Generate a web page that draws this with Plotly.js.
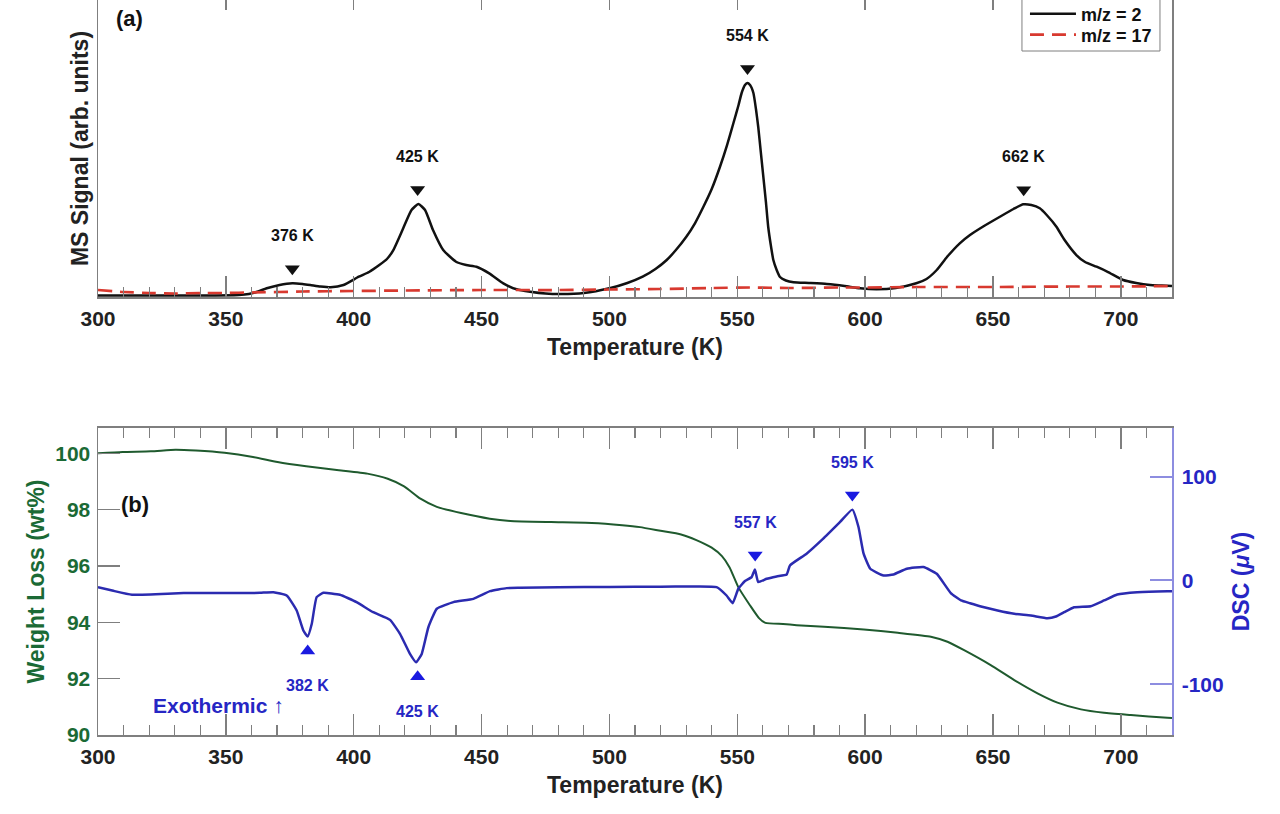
<!DOCTYPE html>
<html><head><meta charset="utf-8">
<script src="https://cdn.plot.ly/plotly-3.0.1.min.js"></script>
<style>html,body{margin:0;padding:0;background:#fff}#chart{width:1280px;height:814px}</style>
</head><body><div id="chart"></div>
<script>
// ---- Panel (a): mass spectrometry ----
const tempMS2 = [300, 320, 340, 355, 359, 362, 366, 371, 376, 380, 383, 387, 391, 396, 402, 406, 410, 413, 415.5, 419.4, 422.6, 425.3, 427.9, 431, 435, 440, 444, 448, 453, 458.5, 463.7, 469, 475, 481, 490, 500, 507, 513, 518, 522.4, 526, 530, 533.5, 536.7, 540, 543.2, 546, 548.5, 550.5, 551.7, 553, 553.9, 555, 556.3, 557.3, 558.2, 559.2, 560.2, 561.2, 562.1, 563.1, 564.1, 565.4, 566.7, 569, 572, 578, 585, 592, 598, 604.5, 612, 620, 624, 628, 632, 637, 641, 646, 652.7, 658, 661.8, 665, 668.3, 671, 674.8, 678, 682.6, 686, 690.5, 695, 700.9, 706, 711.4, 716, 720];
const signalMS2 = [0.015, 0.015, 0.015, 0.02, 0.03, 0.05, 0.087, 0.12, 0.137, 0.13, 0.12, 0.105, 0.097, 0.12, 0.203, 0.25, 0.32, 0.38, 0.47, 0.69, 0.87, 0.93, 0.87, 0.67, 0.47, 0.353, 0.32, 0.303, 0.237, 0.137, 0.077, 0.053, 0.035, 0.03, 0.04, 0.087, 0.14, 0.203, 0.28, 0.37, 0.47, 0.60, 0.74, 0.90, 1.08, 1.30, 1.52, 1.74, 1.92, 2.04, 2.12, 2.14, 2.12, 2.04, 1.88, 1.70, 1.45, 1.20, 0.95, 0.70, 0.52, 0.37, 0.27, 0.20, 0.165, 0.147, 0.14, 0.13, 0.11, 0.087, 0.077, 0.09, 0.137, 0.18, 0.27, 0.40, 0.537, 0.62, 0.703, 0.803, 0.88, 0.927, 0.92, 0.887, 0.82, 0.703, 0.57, 0.42, 0.35, 0.303, 0.25, 0.17, 0.14, 0.12, 0.115, 0.11];
const tempMS17 = [300, 310, 320, 330, 340, 350, 360, 380, 400, 420, 450, 480, 500, 520, 540, 555, 570, 590, 600, 620, 650, 680, 700, 720];
const signalMS17 = [0.07, 0.05, 0.04, 0.035, 0.04, 0.04, 0.045, 0.055, 0.06, 0.065, 0.07, 0.07, 0.075, 0.08, 0.09, 0.095, 0.09, 0.095, 0.095, 0.10, 0.10, 0.105, 0.105, 0.11];
const msPeakTemps = [376, 425, 554, 662];

// ---- Panel (b): TG / DSC ----
const tempTG = [300, 309.6, 320.7, 330.3, 338.3, 349.5, 360.6, 370.2, 381.4, 394.2, 405.3, 413.3, 419.7, 426.1, 432.5, 442, 453.2, 461.2, 477.2, 493.1, 505, 512, 520, 528, 534, 540, 544, 547, 550.4, 555, 558.5, 561, 567.9, 573.2, 583.9, 599.5, 612.8, 625.7, 632.2, 638.7, 649.1, 658.3, 667.4, 675.2, 684.4, 693.4, 703.9, 718.2, 720];
const weightTG = [100.0, 100.05, 100.07, 100.13, 100.1, 100.02, 99.87, 99.69, 99.54, 99.40, 99.28, 99.10, 98.83, 98.39, 98.10, 97.88, 97.68, 97.60, 97.56, 97.53, 97.45, 97.38, 97.25, 97.12, 96.92, 96.65, 96.35, 95.95, 95.25, 94.6, 94.15, 93.98, 93.94, 93.90, 93.84, 93.75, 93.63, 93.49, 93.31, 93.01, 92.48, 91.95, 91.48, 91.15, 90.91, 90.79, 90.71, 90.61, 90.60];
const tempDSC = [300, 306, 313.3, 333.5, 357.4, 363.4, 368.6, 373.8, 377.7, 380.3, 382, 383.6, 385.5, 388.1, 394.6, 401.1, 407.6, 414.2, 418.1, 422, 424.4, 426.6, 429.2, 432.5, 439, 446.8, 453.3, 459.8, 465, 480, 500, 520, 531.5, 541.9, 545.8, 548.2, 550.4, 553, 555.6, 556.9, 558.2, 561.5, 565.4, 569.3, 570.6, 577.1, 583.6, 590.2, 595, 597.4, 599.4, 602, 607.2, 611.1, 616.3, 622.8, 628, 633.5, 637.5, 641, 645.3, 651.8, 658.3, 664.8, 671.3, 674.6, 677.8, 681.7, 688.2, 693.4, 698.6, 706.4, 718.2, 720];
const dscSignal = [-6.4, -10, -13.8, -12.2, -12.2, -11.9, -11.3, -14.5, -29, -48.3, -54.1, -41.8, -16.1, -11.9, -13.8, -20.9, -30.6, -38, -51.5, -70.8, -78.9, -70.8, -45.1, -27.3, -20.9, -17.7, -10.3, -7.4, -7.1, -6.5, -6.2, -6.0, -5.8, -6.4, -14.5, -21.9, -8, -0.6, 3.2, 10.6, -1.6, 1.6, 3.9, 5.8, 14.5, 25.8, 40.3, 56.4, 68.3, 51.5, 25.8, 11.3, 4.8, 5.8, 11.3, 12.9, 6.4, -12.2, -19.3, -22, -25.1, -29, -32.2, -33.8, -36.4, -34.8, -30.6, -25.8, -24.8, -19.3, -13.5, -11.3, -10.3, -10.3];
const dscExoPeakTemps = [557, 595];   // marked from above
const dscEndoPeakTemps = [382, 425];  // marked from below
const dscTickVals = [-100, 0, 100];
const dscTickText = ['-100', '0', '100'];

// ---- helpers ----
function extremeNear(xs, ys, t, useMax) {
  let best = null;
  for (let i = 0; i < xs.length; i++) {
    if (Math.abs(xs[i] - t) <= 2.5) {
      if (best === null || (useMax ? ys[i] > best : ys[i] < best)) best = ys[i];
    }
  }
  return best;
}

const FONT = 'Liberation Sans, Arial, Helvetica, sans-serif';
const gray = '#7f7f7f';
const black = '#111111';
const red = '#d8392f';
const greenLine = '#1f5a2e';
const greenText = '#1b6a35';
const blueLine = '#2b2bb0';
const blueText = '#2626c4';
const lavender = '#8d8de0';

const msMarkY = msPeakTemps.map(t => extremeNear(tempMS2, signalMS2, t, true) + 0.145);
const exoMarkY = dscExoPeakTemps.map(t => extremeNear(tempDSC, dscSignal, t, true) + 14);
const endoMarkY = dscEndoPeakTemps.map(t => extremeNear(tempDSC, dscSignal, t, false) - 14);

// every x axis carries a trace so that all of them are drawn
const traces = [
  {x: tempMS2, y: signalMS2, xaxis: 'x', yaxis: 'y', type: 'scatter', mode: 'lines', name: 'm/z = 2',
   legend: 'legend', line: {color: black, width: 2.5, shape: 'spline', smoothing: 0.5}},
  {x: tempMS17, y: signalMS17, xaxis: 'x4', yaxis: 'y', type: 'scatter', mode: 'lines', name: 'm/z = 17',
   legend: 'legend2', line: {color: red, width: 2.7, dash: '14px,8px', shape: 'spline', smoothing: 0.5}},
  {x: msPeakTemps, y: msMarkY, xaxis: 'x3', yaxis: 'y', type: 'scatter', mode: 'markers', showlegend: false,
   marker: {symbol: 'triangle-down', size: 13, color: black}},
  {x: tempTG, y: weightTG, xaxis: 'x2', yaxis: 'y2', type: 'scatter', mode: 'lines', showlegend: false,
   line: {color: greenLine, width: 2, shape: 'spline', smoothing: 0.5}},
  {x: tempDSC, y: dscSignal, xaxis: 'x6', yaxis: 'y3', type: 'scatter', mode: 'lines', showlegend: false,
   line: {color: blueLine, width: 2.5, shape: 'spline', smoothing: 0.4}},
  {x: dscExoPeakTemps, y: exoMarkY, xaxis: 'x5', yaxis: 'y3', type: 'scatter', mode: 'markers', showlegend: false,
   marker: {symbol: 'triangle-down', size: 13, color: '#1a1ae0'}},
  {x: dscEndoPeakTemps, y: endoMarkY, xaxis: 'x5', yaxis: 'y3', type: 'scatter', mode: 'markers', showlegend: false,
   marker: {symbol: 'triangle-up', size: 13, color: '#1a1ae0'}}
];

const tickFont = {family: FONT, size: 21, color: '#222', weight: 'bold'};
const titleFont = {family: FONT, size: 23, color: '#222', weight: 'bold'};

// base axis: short ticks every 10 K, no labels
function xMinorAxis(anchor, mirror) {
  return {
    anchor: anchor, domain: [0, 1], range: [300, 720], tick0: 300, dtick: 10,
    ticks: 'inside', ticklen: 10, tickwidth: 1.2, tickcolor: gray,
    showline: true, linecolor: gray, linewidth: 1.5, mirror: mirror,
    showgrid: false, zeroline: false, showticklabels: false
  };
}
// overlay axis: long ticks every 50 K (labelled on the bottom)
function xMajorAxis(over, anchor, side, labelled, len) {
  const ax = {
    overlaying: over, anchor: anchor, side: side, range: [300, 720], tick0: 300, dtick: 50,
    ticks: 'inside', ticklen: len, tickwidth: 1.5, tickcolor: gray,
    showline: false, showgrid: false, zeroline: false, showticklabels: labelled
  };
  if (labelled) {
    ax.tickfont = tickFont;
    ax.ticklabelstandoff = 7;
    ax.title = {text: 'Temperature (K)', font: titleFont, standoff: 9};
    ax.automargin = true;
  }
  return ax;
}

const annotations = [];
msPeakTemps.forEach((t, i) => annotations.push({
  xref: 'x', yref: 'y', x: t, y: msMarkY[i] + 0.33, text: t + ' K', showarrow: false,
  font: {family: FONT, size: 16, color: '#111', weight: 'bold'}
}));
dscExoPeakTemps.forEach((t, i) => annotations.push({
  xref: 'x2', yref: 'y3', x: t, y: exoMarkY[i] + 31, text: t + ' K', showarrow: false,
  font: {family: FONT, size: 16, color: blueText, weight: 'bold'}
}));
dscEndoPeakTemps.forEach((t, i) => annotations.push({
  xref: 'x2', yref: 'y3', x: t, y: endoMarkY[i] - 33, text: t + ' K', showarrow: false,
  font: {family: FONT, size: 16, color: blueText, weight: 'bold'}
}));
annotations.push({xref: 'x', yref: 'y', x: 312.5, y: 2.79, text: '(a)', showarrow: false,
  font: {family: FONT, size: 22, color: '#111', weight: 'bold'}});
annotations.push({xref: 'x2', yref: 'y2', x: 314.5, y: 98.19, text: '(b)', showarrow: false,
  font: {family: FONT, size: 22, color: '#111', weight: 'bold'}});
annotations.push({xref: 'x2', yref: 'y3', x: 347.3, y: -120.8, text: 'Exothermic ↑', showarrow: false,
  font: {family: FONT, size: 21, color: blueText, weight: 'bold'}});

const legendFont = {family: FONT, size: 18, color: '#111', weight: 'bold'};
function legendRow(yPaper) {
  return {x: 0.8631, xanchor: 'left', y: yPaper, yanchor: 'middle', bgcolor: 'rgba(0,0,0,0)',
    borderwidth: 0, font: legendFont, itemwidth: 46};
}

const layout = {
  width: 1280, height: 814,
  margin: {l: 98, r: 108, t: 0, b: 79, autoexpand: false},
  paper_bgcolor: '#fff', plot_bgcolor: '#fff',
  showlegend: true,
  legend: legendRow(0.9810),
  legend2: legendRow(0.9524),
  shapes: [{type: 'rect', xref: 'paper', yref: 'paper', x0: 0.8603, x1: 0.9888, y0: 0.9306, y1: 1.002,
    line: {color: gray, width: 1}, fillcolor: '#fff', layer: 'above'}],
  // top panel
  xaxis: xMinorAxis('y', false),
  xaxis3: xMajorAxis('x', 'y', 'top', false, 10),
  xaxis4: xMajorAxis('x', 'y', 'bottom', true, 21),
  yaxis: {anchor: 'x', domain: [0.5959, 1], range: [0, 2.97], showticklabels: false, ticks: '',
    showline: true, mirror: true, linecolor: gray, linewidth: 1.5, showgrid: false, zeroline: false,
    title: {text: 'MS Signal (arb. units)', font: titleFont, standoff: 1}, automargin: true},
  // bottom panel
  xaxis2: xMinorAxis('y2', 'ticks'),
  xaxis5: xMajorAxis('x2', 'y2', 'top', false, 21),
  xaxis6: xMajorAxis('x2', 'y2', 'bottom', true, 21),
  yaxis2: {anchor: 'x2', domain: [0, 0.4177], range: [90, 100.9], tick0: 90, dtick: 2,
    ticks: 'inside', ticklen: 22, tickwidth: 1.5, tickcolor: gray,
    showline: true, linecolor: gray, linewidth: 1.5, showgrid: false, zeroline: false,
    tickfont: Object.assign({}, tickFont, {color: greenText}), ticklabelstandoff: 2,
    title: {text: 'Weight Loss (wt%)', font: Object.assign({}, titleFont, {color: greenText}), standoff: 4},
    automargin: true},
  yaxis3: {overlaying: 'y2', anchor: 'x2', side: 'right', range: [-149, 147],
    tickmode: 'array', tickvals: dscTickVals, ticktext: dscTickText,
    ticks: 'inside', ticklen: 22, tickwidth: 2, tickcolor: lavender,
    showline: true, linecolor: lavender, linewidth: 1.5, showgrid: false, zeroline: false,
    tickfont: Object.assign({}, tickFont, {color: blueText}), ticklabelstandoff: 4,
    title: {text: 'DSC (<i>μ</i>V)', font: Object.assign({}, titleFont, {color: blueText}), standoff: 10},
    automargin: true},
  annotations: annotations
};

Plotly.newPlot('chart', traces, layout, {displayModeBar: false, staticPlot: true});
</script>
</body></html>
